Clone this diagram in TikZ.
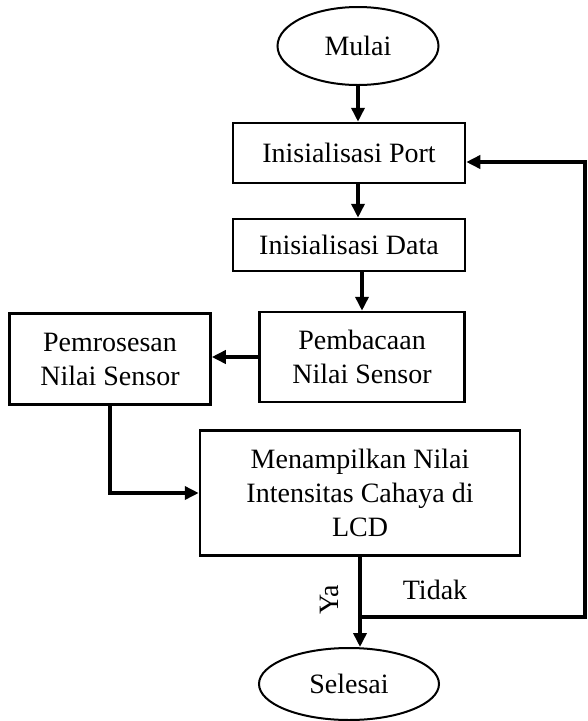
\documentclass[tikz,border=0pt]{standalone}
\usepackage{fontspec}
\setmainfont{Liberation Serif}
\usetikzlibrary{arrows.meta,shapes.geometric}
\tikzstyle{terminal}=[ellipse, draw, line width=2pt, inner sep=0pt]
\tikzstyle{process}=[rectangle, draw, line width=2.5pt, inner sep=0pt, align=center]
\tikzstyle{flow}=[draw, line width=3.5pt, -{Triangle[length=14pt,width=13pt]}]
\newcommand{\terminal}{\node[terminal]}
\newcommand{\process}{\node[process]}

\begin{document}
\begin{tikzpicture}[x=1pt, y=-1pt, font=\fontsize{28}{34}\selectfont
    ,every edge/.style={flow}
]
\useasboundingbox (0,0) rectangle (587,721);
\terminal[minimum width=161pt, minimum height=78pt] (mulai) at (358,46) {Mulai};
\process[minimum width=232pt, minimum height=60pt] (port) at (349,153) {Inisialisasi Port};
\process[minimum width=232pt, minimum height=52pt] (data) at (349,245) {Inisialisasi Data};
\process[minimum width=205pt, minimum height=90pt] (baca) at (362,357) {Pembacaan\\Nilai Sensor};
\process[minimum width=201pt, minimum height=91pt] (proses) at (110,359) {Pemrosesan\\Nilai Sensor};
\process[minimum width=320pt, minimum height=125pt] (tampil) at (360,493) {Menampilkan Nilai\\Intensitas Cahaya di\\LCD};
\terminal[minimum width=180pt, minimum height=72pt] (selesai) at (349,684) {Selesai};
\node[rotate=90] (ya) at (329,600) {Ya};
\node (tidak) at (435,590) {Tidak};
\coordinate (turn) at (585,617);
\coordinate (back) at (585,162);
\path
(mulai.south) edge (mulai.south |- port.north)
(port.south -| mulai.south) edge (data.north -| mulai.south)
(baca.north |- data.south) edge (baca.north)
(baca.west) edge (baca.west -| proses.east)
(tampil.south) edge (tampil.south |- selesai.north)
;
\draw[flow] (proses.south) |- (tampil.west);
\draw[flow] (tampil.south |- turn) -- (turn) -- (back) -- (port.east |- back);
\end{tikzpicture}
\end{document}
